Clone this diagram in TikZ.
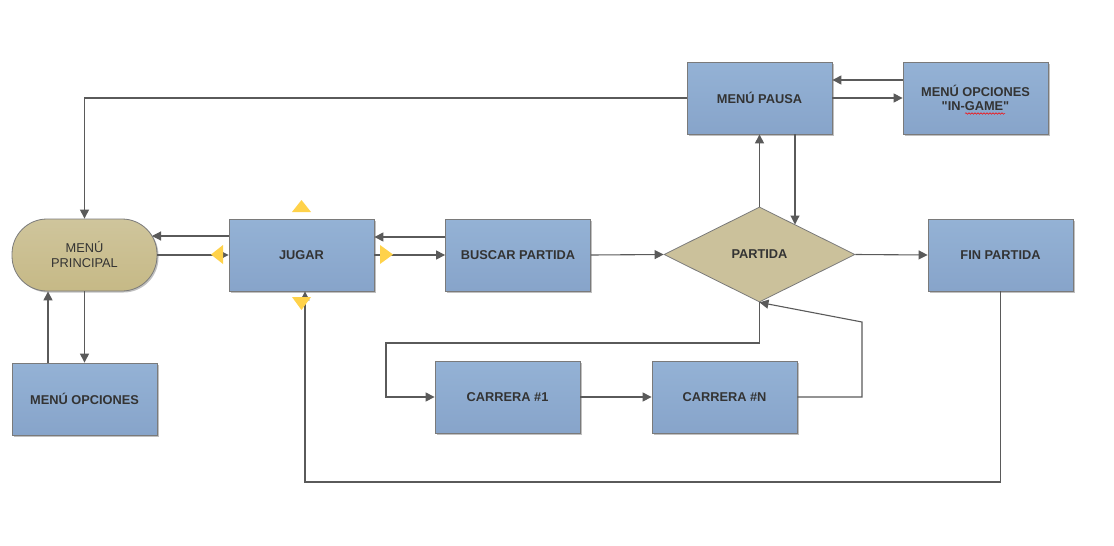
\documentclass[tikz,border=0pt]{standalone}
\usepackage{fontspec}
\setmainfont{Liberation Sans}[Ligatures=TeXOff]
\usetikzlibrary{arrows.meta,shapes.geometric,shadows,decorations.pathmorphing}
\definecolor{blueTop}{HTML}{94B2D5}
\definecolor{blueBot}{HTML}{87A4CA}
\definecolor{tanTop}{HTML}{CFC59C}
\definecolor{tanBot}{HTML}{C6B986}
\definecolor{tanD}{HTML}{CBC19B}
\definecolor{bordergray}{HTML}{7A7A7A}
\definecolor{linegray}{HTML}{5A5A5A}
\definecolor{txt}{HTML}{333333}
\definecolor{handle}{HTML}{FFD24A}
\tikzset{
  boxnode/.style={draw=bordergray, line width=0.8pt, top color=blueTop, bottom color=blueBot,
    minimum width=145pt, minimum height=72pt, inner sep=2pt, align=center, text=txt,
    font=\bfseries\fontsize{12.8}{14.5}\selectfont,
    drop shadow={shadow xshift=1.5pt, shadow yshift=-1.5pt, opacity=0.35, fill=black!70}},
  diamnode/.style={shape=diamond, draw=bordergray, line width=0.8pt, fill=tanD,
    minimum width=191pt, minimum height=95pt, inner sep=0pt, aspect=2, text=txt,
    font=\bfseries\fontsize{12.8}{14.5}\selectfont},
  startnode/.style={draw=bordergray, line width=0.8pt, top color=tanTop, bottom color=tanBot,
    rounded corners=35pt, minimum width=145pt, minimum height=72pt, align=center, text=txt,
    font=\fontsize{12.8}{15}\selectfont,
    drop shadow={shadow xshift=1.5pt, shadow yshift=-1.5pt, opacity=0.35, fill=black!70}},
  conn/.style={draw=linegray, line width=1.1pt, -{Triangle[length=9pt,width=9pt]}},
  handlemark/.style={fill=handle, draw=none}
}
\begin{document}
\begin{tikzpicture}[x=1pt,y=-1pt]
\useasboundingbox[fill=white] (0,0) rectangle (1114,546);

\node[startnode] (principal) at (84.5,255) {MENÚ\\PRINCIPAL};
\node[boxnode] (jugar) at (301.5,255) {JUGAR};
\node[boxnode] (buscar) at (518,255) {BUSCAR PARTIDA};
\node[diamnode] (partida) at (759.5,254.5) {PARTIDA};
\node[boxnode] (fin) at (1000.5,255) {FIN PARTIDA};
\node[boxnode] (pausa) at (759.5,98) {MENÚ PAUSA};
\node[boxnode] (ingame) at (975.5,98) {MENÚ OPCIONES\\"IN-GAME"};
\node[boxnode] (opc) at (84.5,399) {MENÚ OPCIONES};
\node[boxnode] (c1) at (507.5,397) {CARRERA \#1};
\node[boxnode] (cn) at (724.5,397) {CARRERA \#N};

\coordinate (pin) at (152,236);
\coordinate (dtop) at (795,224.5);
\coordinate (lbend) at (386,343);
\coordinate (rbend) at (862,322);
\coordinate (bbend) at (305,482);

\draw[conn] (pausa.west) -| (principal.north);
\draw[conn] (jugar.west |- pin) -- (pin);
\draw[conn] (principal.east) -- (jugar.west);
\draw[conn] (buscar.west |- 0,237) -- (jugar.east |- 0,237);
\draw[conn] (jugar.east) -- (buscar.west);
\draw[conn] (buscar.east) -- (partida.west);
\draw[conn] (partida.east) -- (fin.west);
\draw[conn] (partida.north) -- (pausa.south);
\draw[conn] (pausa.south -| dtop) -- (dtop);
\draw[conn] (ingame.west |- 0,80) -- (pausa.east |- 0,80);
\draw[conn] (pausa.east) -- (ingame.west);
\draw[conn] (opc.north -| 48,0) -- (principal.south -| 48,0);
\draw[conn] (principal.south) -- (opc.north);
\draw[conn] (partida.south) |- (lbend) |- (c1.west);
\draw[conn] (c1.east) -- (cn.west);
\draw[conn] (cn.east) -| (rbend) -- (partida.south);
\draw[conn] (fin.south) |- (bbend) -- (jugar.south -| bbend);

\fill[handlemark] (292,212) -- (301.5,200) -- (311,212) -- cycle;
\fill[handlemark] (223,245) -- (211,254.5) -- (223,264) -- cycle;
\fill[handlemark] (380,245) -- (393,254.5) -- (380,264) -- cycle;
\fill[handlemark] (292,297) -- (311,297) -- (301.5,310) -- cycle;

\draw[red, line width=0.5pt, decorate, decoration={snake, amplitude=0.8pt, segment length=3pt}] (965,113.5) -- (1005,113.5);
\end{tikzpicture}
\end{document}
